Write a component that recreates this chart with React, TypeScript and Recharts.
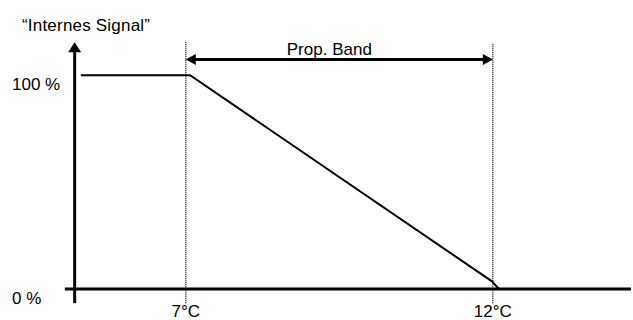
import React from 'react';
import { ComposedChart, Line, XAxis, YAxis, ReferenceLine, Label } from 'recharts';

// ---- data ----
const signalTemps = [5.29, 7.07, 11.98, 12.1];
const signalPercent = [100, 100, 3.7, 0];
const tempTicks = [7, 12];
const tempTickLabels = ['7°C', '12°C'];
const percentTicks = [0, 100];
const percentTickLabels = ['0 %', '100 %'];
const bandStart = 7;
const bandEnd = 12;
const bandLevel = 107.4;
const bandLabel = 'Prop. Band';
const axisTitle = '“Internes Signal”';
const tempDomain: [number, number] = [5, 14.25];
const percentDomain: [number, number] = [-7, 116.5];
const yAxisTemp = 5.19;
const xAxisStartTemp = 5.03;
const axisBottom = -6.6;
const axisTop = 115.5;
const guideTops = [116, 115.1];

const data = signalTemps.map((t, i) => ({ t, v: signalPercent[i] }));

const FONT = "'Liberation Sans', Arial, sans-serif";
const FS = 17;

const VArrow = (p: any) => {
  const x = p.x1;
  const top = Math.min(p.y1, p.y2);
  const bottom = Math.max(p.y1, p.y2);
  return (
    <g>
      <line x1={x} y1={bottom} x2={x} y2={top + 9} stroke="#000" strokeWidth={3} />
      <polygon points={`${x},${top} ${x - 6.5},${top + 10} ${x + 6.5},${top + 10}`} fill="#000" />
    </g>
  );
};

const BandArrow = (p: any) => {
  const left = Math.min(p.x1, p.x2);
  const right = Math.max(p.x1, p.x2);
  const y = p.y1;
  return (
    <g>
      <line x1={left + 8} y1={y} x2={right - 8} y2={y} stroke="#000" strokeWidth={3} />
      <polygon points={`${left},${y} ${left + 10},${y - 5.5} ${left + 10},${y + 5.5}`} fill="#000" />
      <polygon points={`${right},${y} ${right - 10},${y - 5.5} ${right - 10},${y + 5.5}`} fill="#000" />
      <text x={(left + right) / 2 - 10} y={y - 4.5} textAnchor="middle" fontFamily={FONT} fontSize={FS} fill="#000">
        {bandLabel}
      </text>
    </g>
  );
};

const YTick = (p: any) => {
  const idx = percentTicks.indexOf(p.payload.value);
  return (
    <text x={12} y={p.y + 14.5} textAnchor="start" fontFamily={FONT} fontSize={FS} fill="#000">
      {percentTickLabels[idx]}
    </text>
  );
};

const XTick = (p: any) => {
  const idx = tempTicks.indexOf(p.payload.value);
  return (
    <text x={p.x} y={317} textAnchor="middle" fontFamily={FONT} fontSize={FS} fill="#000">
      {tempTickLabels[idx]}
    </text>
  );
};

export default function App() {
  return (
    <div style={{ position: 'absolute', left: 0, top: 0, background: '#fff' }}>
      <ComposedChart
        width={633}
        height={320}
        data={data}
        margin={{ top: 40, right: 2, bottom: 0, left: 0 }}
      >
        <XAxis
          dataKey="t"
          type="number"
          domain={tempDomain}
          allowDataOverflow
          ticks={tempTicks}
          tick={<XTick />}
          axisLine={false}
          tickLine={false}
          height={16}
          interval={0}
        />
        <YAxis
          type="number"
          domain={percentDomain}
          allowDataOverflow
          ticks={percentTicks}
          tick={<YTick />}
          axisLine={false}
          tickLine={false}
          width={63}
          interval={0}
        >
          <Label
            content={() => (
              <text x={22} y={31} fontFamily={FONT} fontSize={FS} fill="#000" letterSpacing={0.2}>
                {axisTitle}
              </text>
            )}
          />
        </YAxis>
        <ReferenceLine
          segment={[{ x: xAxisStartTemp, y: 0 }, { x: tempDomain[1], y: 0 }]}
          stroke="#000"
          strokeWidth={3}
        />
        <ReferenceLine
          segment={[{ x: yAxisTemp, y: axisBottom }, { x: yAxisTemp, y: axisTop }]}
          shape={VArrow}
        />
        <ReferenceLine
          segment={[{ x: bandStart, y: axisBottom }, { x: bandStart, y: guideTops[0] }]}
          stroke="#000"
          strokeWidth={1.3}
          strokeDasharray="1 1"
        />
        <ReferenceLine
          segment={[{ x: bandEnd, y: axisBottom }, { x: bandEnd, y: guideTops[1] }]}
          stroke="#000"
          strokeWidth={1.3}
          strokeDasharray="1 1"
        />
        <ReferenceLine
          segment={[{ x: bandStart, y: bandLevel }, { x: bandEnd, y: bandLevel }]}
          shape={BandArrow}
        />
        <Line
          dataKey="v"
          type="linear"
          stroke="#000"
          strokeWidth={2}
          dot={false}
          activeDot={false}
          isAnimationActive={false}
        />
      </ComposedChart>
    </div>
  );
}
